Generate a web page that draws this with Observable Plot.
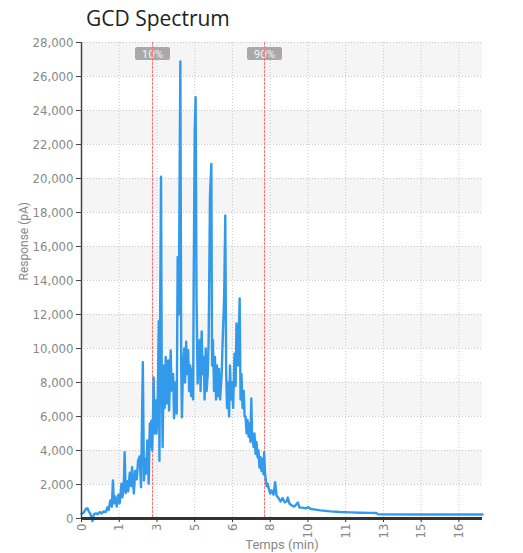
<!DOCTYPE html>
<html><head><meta charset="utf-8">
<script src="https://cdn.jsdelivr.net/npm/d3@7"></script>
<script src="https://cdn.jsdelivr.net/npm/@observablehq/plot@0.6"></script>
<style>
body{margin:0;background:#fff;width:523px;height:553px;overflow:hidden;}
#title{box-sizing:border-box;height:32px;padding-top:4px;padding-left:86px;font-family:"Open Sans",sans-serif;font-size:21px;line-height:28px;color:#222;}
</style></head><body>
<div id="title">GCD Spectrum</div>
<div id="chart"></div>
<script>
const times = [0.00,0.10,0.19,0.27,0.32,0.39,0.49,0.55,0.64,0.72,0.81,0.90,0.99,1.08,1.16,1.21,1.28,1.35,1.40,1.44,1.50,1.57,1.64,1.70,1.78,1.82,1.88,1.92,1.97,2.04,2.08,2.15,2.21,2.25,2.33,2.39,2.46,2.52,2.59,2.65,2.73,2.78,2.83,2.88,2.93,2.97,2.99,3.04,3.08,3.11,3.15,3.19,3.21,3.26,3.30,3.34,3.39,3.44,3.47,3.50,3.54,3.57,3.61,3.66,3.70,3.75,3.79,3.86,3.90,3.97,4.01,4.08,4.12,4.19,4.24,4.28,4.33,4.40,4.44,4.47,4.52,4.57,4.61,4.66,4.70,4.75,4.79,4.84,4.88,4.92,4.97,4.99,5.04,5.08,5.12,5.17,5.21,5.26,5.30,5.35,5.39,5.44,5.48,5.53,5.57,5.62,5.66,5.72,5.78,5.81,5.85,5.90,5.94,5.99,6.03,6.08,6.12,6.17,6.24,6.28,6.35,6.40,6.44,6.48,6.53,6.57,6.61,6.66,6.70,6.75,6.81,6.86,6.90,6.97,7.04,7.08,7.12,7.17,7.22,7.26,7.30,7.35,7.39,7.44,7.48,7.52,7.56,7.59,7.66,7.70,7.75,7.79,7.84,7.88,7.92,7.97,8.01,8.06,8.10,8.13,8.17,8.24,8.28,8.35,8.40,8.46,8.55,8.62,8.68,8.77,8.86,8.95,9.04,9.13,9.18,9.26,9.35,9.48,9.63,9.70,9.84,9.97,10.10,10.20,10.42,10.64,10.86,11.08,11.52,11.97,12.41,12.86,13.12,13.22,15.08,17.85];
const responses = [280,350,560,600,420,300,-150,250,300,250,380,300,420,380,660,500,1060,700,2240,880,1300,700,1400,900,2050,1240,1800,3900,1500,2200,1600,2700,1900,3020,1470,2800,2300,3400,3650,1840,9190,2240,3500,2650,4590,3200,2050,5590,4200,5760,4000,6350,8300,5000,6940,5000,6500,11600,3400,12000,20100,9000,4200,9000,6500,9500,6760,9300,6350,9880,7530,8500,5900,8000,6170,15370,12000,26880,8700,5960,9000,10000,8000,10400,8500,9900,7500,9000,7200,8800,7000,13000,22800,24780,13000,7940,9500,10500,7500,11000,8500,9500,7000,10000,7500,8500,10470,19000,20850,9000,10500,7500,9500,7000,9000,7200,8800,7000,8500,10290,13000,17820,8500,6500,8000,6000,9000,7000,8000,6500,9700,7800,11470,9000,12940,7000,8500,6500,7500,6000,6000,5000,5800,4800,5600,4500,7060,5000,4200,5000,3800,4500,3600,4000,3000,3600,2800,3500,2600,3900,2640,1900,2050,1700,1470,1650,1400,2140,1350,1200,1000,1200,950,1000,1230,880,770,700,940,650,640,600,670,560,520,480,450,420,380,360,340,330,320,240,235,235];
const yTicks = [0,2000,4000,6000,8000,10000,12000,14000,16000,18000,20000,22000,24000,26000,28000];
const xTickValues = [0,1.68,3.36,5.04,6.72,8.40,10.08,11.76,13.44,15.12,16.80];
const xTickLabels = ["0","1","3","5","6","8","10","11","13","15","16"];
const markerTimes = [3.18, 8.146];
const markerLabels = ["10%", "90%"];
const xLabel = "Temps (min)";
const yLabel = "Response (pA)";

const series = times.map((t, i) => ({t, v: responses[i]}));
const bands = yTicks.slice(0, -1).map((y, i) => ({y1: y, y2: yTicks[i + 1]})).filter((d, i) => i % 2 === 1);
const tickFont = '"Liberation Sans Narrow","DejaVu Sans Condensed",Roboto,sans-serif';

function markerBoxes(index, scales, values, dims) {
  const g = d3.create("svg:g");
  markerTimes.forEach((t, i) => {
    const cx = Math.round(scales.x(t)) + 0.5;
    g.append("rect").attr("x", cx - 17.5).attr("y", dims.marginTop + 5).attr("width", 35).attr("height", 13)
      .attr("rx", 2).attr("fill", "#a9a9a9");
    g.append("text").attr("x", cx).attr("y", dims.marginTop + 11.5).attr("dy", "0.35em")
      .attr("text-anchor", "middle").attr("fill", "#f2f2f2").attr("font-size", 11.5)
      .attr("font-family", "Roboto,sans-serif").text(markerLabels[i]);
  });
  return g.node();
}

function markerRules(index, scales, values, dims) {
  const g = d3.create("svg:g");
  markerTimes.forEach((t) => {
    const cx = Math.round(scales.x(t)) + 0.5;
    g.append("line").attr("x1", cx).attr("x2", cx)
      .attr("y1", dims.marginTop).attr("y2", dims.height - dims.marginBottom)
      .attr("stroke", "#f47a7a").attr("stroke-width", 1).attr("stroke-dasharray", "3,1");
  });
  return g.node();
}

const chart = Plot.plot({
  width: 523,
  height: 521,
  marginTop: 10,
  marginBottom: 35,
  marginLeft: 81,
  marginRight: 41,
  style: {fontFamily: tickFont, fontSize: "13px", background: "#fff", overflow: "visible"},
  x: {domain: [0, 17.85]},
  y: {domain: [0, 28000]},
  marks: [
    Plot.rectY(bands, {x1: 0, x2: 17.85, y1: "y1", y2: "y2", fill: "#f5f5f5"}),
    Plot.gridY(yTicks, {stroke: "#c8c8c8", strokeOpacity: 1, strokeDasharray: "1,2"}),
    Plot.gridX(xTickValues, {stroke: "#c8c8c8", strokeOpacity: 1, strokeDasharray: "1,2"}),
    markerBoxes,
    markerRules,
    Plot.line(series, {x: "t", y: "v", stroke: "#3399ea", strokeWidth: 2.4, curve: "linear"}),
    Plot.ruleX([0], {stroke: "#444", strokeWidth: 1.5}),
    Plot.axisY(yTicks, {tickSize: 5, tickFormat: () => "", stroke: "#444", label: null}),
    Plot.axisY(yTicks, {tickSize: 0, tickPadding: 8, tickFormat: d3.format(","), fill: "#888", color: "#888", label: null}),
    Plot.axisX(xTickValues, {tickSize: 4, tickFormat: () => "", stroke: "#333", label: null}),
    Plot.axisX(xTickValues, {tickSize: 0, tickPadding: 5, tickRotate: -90, tickFormat: (d, i) => xTickLabels[i], fill: "#888", color: "#888", label: null}),
    Plot.ruleY([0], {stroke: "#333", strokeWidth: 3}),
    Plot.text([xLabel], {frameAnchor: "bottom", lineAnchor: "middle", dy: 26, fill: "#888", fontSize: 13, fontFamily: "Roboto,sans-serif"}),
    Plot.text([yLabel], {frameAnchor: "left", rotate: -90, dx: -57, fill: "#888", fontSize: 12, fontFamily: "Roboto,sans-serif"})
  ]
});
document.getElementById("chart").appendChild(chart);
</script>
</body></html>
